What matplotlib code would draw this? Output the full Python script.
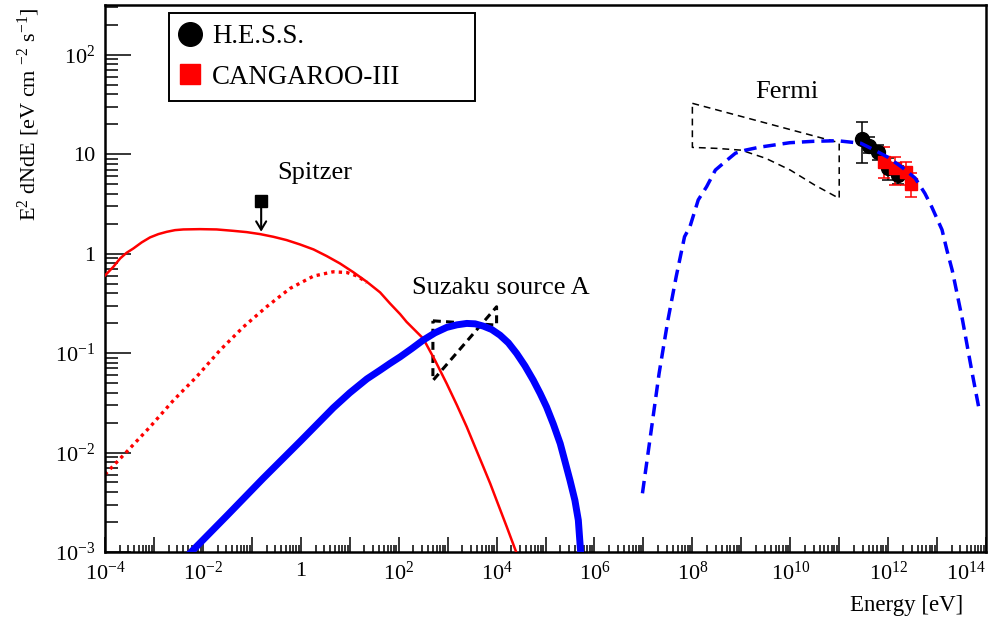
import numpy as np
import matplotlib.pyplot as plt
from matplotlib.lines import Line2D
from matplotlib.ticker import LogLocator, FuncFormatter, NullFormatter

plt.rcParams['font.family'] = ['Liberation Serif', 'DejaVu Serif']
plt.rcParams['mathtext.fontset'] = 'custom'
plt.rcParams['mathtext.rm'] = 'Liberation Serif'
plt.rcParams['mathtext.default'] = 'regular'

# - - - - - - - - - - - - - - - - - - - - - - - - - - - - - - - - - - - - - - - -
# model curves (log10 E [eV], log10 E^2 dN/dE)

# synchrotron, total (solid red)
sync_logE = [-4.0, -3.83, -3.69, -3.56, -3.42, -3.25, -3.08, -2.91, -2.74, -2.57, -2.40, -2.06,
             -1.72, -1.38, -1.105, -0.83, -0.56, -0.29, -0.016, 0.26, 0.53, 0.80, 1.07, 1.35,
             1.62, 1.82, 2.03, 2.16, 2.50, 2.74, 2.98, 3.19, 3.39, 3.56, 3.73, 3.87, 4.00,
             4.21, 4.40, 4.45]
sync_logF = [-0.22, -0.133, -0.048, 0.008, 0.052, 0.113, 0.163, 0.196, 0.219, 0.236, 0.243, 0.246,
             0.243, 0.229, 0.216, 0.196, 0.169, 0.136, 0.092, 0.042, -0.025, -0.099, -0.186, -0.284,
             -0.39, -0.50, -0.609, -0.686, -0.853, -1.071, -1.306, -1.524, -1.742, -1.944, -2.145, -2.312, -2.48,
             -2.75, -3.0, -3.08]

# synchrotron, one component (dotted red)
sync2_logE = [-4.0, -3.56, -3.08, -2.60, -2.13, -1.65, -1.17, -0.70, -0.22, 0.26, 0.66, 0.94, 1.15, 1.35]
sync2_logF = [-2.22, -1.994, -1.742, -1.474, -1.239, -0.971, -0.736, -0.535, -0.35, -0.226, -0.183, -0.19, -0.225, -0.29]

# thick blue
brem_logE = [-2.30, -1.5, -0.77, -0.016, 0.665, 1.0, 1.35, 1.62, 1.82, 2.03, 2.27, 2.50, 2.74, 2.98,
             3.19, 3.39, 3.56, 3.73, 3.90, 4.07, 4.24, 4.41, 4.58, 4.75, 4.89, 5.02, 5.16, 5.30,
             5.40, 5.50, 5.60, 5.67, 5.72]
brem_logF = [-3.03, -2.63, -2.26, -1.89, -1.55, -1.40, -1.26, -1.172, -1.105, -1.038, -0.954, -0.870, -0.797,
             -0.742, -0.716, -0.702, -0.706, -0.729, -0.763, -0.82, -0.897, -1.004, -1.129, -1.273, -1.406,
             -1.541, -1.715, -1.91, -2.094, -2.28, -2.48, -2.68, -3.02]

# dashed blue (gamma rays)
gam_logE = [6.98, 7.15, 7.32, 7.50, 7.67, 7.84, 7.95, 8.12, 8.29, 8.47, 8.67, 8.88, 9.09, 9.37,
            9.99, 10.47, 10.96, 11.44, 11.72, 11.99, 12.27, 12.55, 12.75, 12.89, 13.10, 13.20,
            13.31, 13.52, 13.72, 13.86]
gam_logF = [-2.41, -1.81, -1.205, -0.67, -0.23, 0.17, 0.27, 0.54, 0.672, 0.84, 0.924, 1.01, 1.041, 1.07,
            1.115, 1.129, 1.135, 1.11, 1.041, 0.97, 0.873, 0.76, 0.606, 0.47, 0.24, 0.035,
            -0.17, -0.67, -1.21, -1.57]

# Fermi butterfly
fermi_logE = [8.0, 8.5, 9.0, 9.5, 10.0, 10.5, 11.0]
fermi_up = [1.511, 1.445, 1.379, 1.313, 1.247, 1.181, 1.115]
fermi_lo = [1.068, 1.058, 1.040, 0.958, 0.840, 0.689, 0.555]

# Suzaku source A butterfly (0.5 - 10 keV)
suz_E = [500.0, 1.0e4]
suz_a = [0.211, 0.191]
suz_b = [0.053, 0.292]

# Spitzer upper limit
spitzer_E = 0.155
spitzer_F = 3.37
spitzer_tip = 1.66

# H.E.S.S.
hess_E = [2.9e11, 4.1e11, 6.2e11, 1.0e12, 1.6e12]
hess_F = [14.2, 12.1, 10.5, 7.25, 6.2]
hess_hi = [21.0, 14.9, 12.4, 9.2, 7.6]
hess_lo = [8.1, 10.3, 8.7, 5.5, 5.0]

# CANGAROO-III
cang_E = [8.3e11, 1.38e12, 2.3e12, 2.97e12]
cang_F = [8.3, 7.25, 6.6, 5.0]
cang_hi = [11.8, 9.3, 8.3, 6.45]
cang_lo = [5.75, 4.9, 4.9, 3.7]


def p10(a):
    return np.power(10.0, np.asarray(a, dtype=float))


def xfmt(v, pos):
    e = int(round(np.log10(v)))
    if e % 2:
        return ''
    if e == 0:
        return '1'
    return '10$^{%d}$' % e


def yfmt(v, pos):
    e = int(round(np.log10(v)))
    if e == 0:
        return '1'
    if e == 1:
        return '10'
    return '10$^{%d}$' % e


fig = plt.figure(figsize=(10.03, 6.2), dpi=100)
ax = fig.add_axes([0.1047, 0.1097, 0.8784, 0.8823])
ax.set_xscale('log')
ax.set_yscale('log')

# butterflies
fx = p10(fermi_logE)
ax.plot(np.r_[fx, fx[::-1], fx[:1]], np.r_[p10(fermi_up), p10(fermi_lo)[::-1], p10(fermi_up[:1])],
        color='black', lw=1.1, dashes=(4.5, 3.2), zorder=2)
ax.plot([suz_E[0], suz_E[1], suz_E[1], suz_E[0], suz_E[0]],
        [suz_a[0], suz_a[1], suz_b[1], suz_b[0], suz_a[0]],
        color='black', lw=2.2, dashes=(2.6, 1.7), zorder=2)

# models
ax.plot(p10(sync2_logE), p10(sync2_logF), color='red', lw=2.4, ls=(0, (1, 1.25)), zorder=2)
ax.plot(p10(sync_logE), p10(sync_logF), color='red', lw=1.8, zorder=3)
ax.plot(p10(brem_logE), p10(brem_logF), color='blue', lw=5, zorder=3)

# data
hf = np.array(hess_F)
ax.errorbar(hess_E, hess_F, yerr=[hf - np.array(hess_lo), np.array(hess_hi) - hf], fmt='o',
            color='black', ms=10, capsize=4.5, elinewidth=1.1, capthick=1.1, zorder=4)
cf = np.array(cang_F)
ax.errorbar(cang_E, cang_F, yerr=[cf - np.array(cang_lo), np.array(cang_hi) - cf], fmt='s',
            color='red', ms=8, capsize=4.5, elinewidth=1.1, capthick=1.1, zorder=4)
ax.plot(p10(gam_logE), p10(gam_logF), color='blue', lw=2.5, dashes=(3.6, 2.0), zorder=5)

ax.annotate('', xy=(spitzer_E, spitzer_tip), xytext=(spitzer_E, spitzer_F),
            arrowprops=dict(arrowstyle='->,head_length=0.5,head_width=0.3', lw=1.5,
                            color='black', shrinkA=0, shrinkB=0, mutation_scale=12), zorder=4)
ax.plot([spitzer_E], [spitzer_F], 's', color='black', ms=8.5, zorder=5)

ax.text(1.95, 6.45, 'Spitzer', ha='center', va='center', fontsize=19)
ax.text(1.23e4, 0.45, 'Suzaku source A', ha='center', va='center', fontsize=19)
ax.text(8.6e9, 42.2, 'Fermi', ha='center', va='center', fontsize=19)

ax.set_xlim(1e-4, 1e14)
ax.set_ylim(1e-3, 10 ** 2.5)

ax.xaxis.set_major_locator(LogLocator(base=10, subs=(1.0,), numticks=100))
ax.xaxis.set_minor_locator(LogLocator(base=10, subs=np.arange(2, 10), numticks=100))
ax.yaxis.set_major_locator(LogLocator(base=10, subs=(1.0,), numticks=100))
ax.yaxis.set_minor_locator(LogLocator(base=10, subs=np.arange(2, 10), numticks=100))
ax.xaxis.set_major_formatter(FuncFormatter(xfmt))
ax.yaxis.set_major_formatter(FuncFormatter(yfmt))
ax.xaxis.set_minor_formatter(NullFormatter())
ax.yaxis.set_minor_formatter(NullFormatter())

ax.tick_params(axis='both', which='both', direction='in', top=False, right=False, labelsize=16, width=1.1)
ax.tick_params(axis='x', which='major', length=10.8, pad=7)
ax.tick_params(axis='x', which='minor', length=5)
ax.tick_params(axis='y', which='major', length=18.7, pad=7)
ax.tick_params(axis='y', which='minor', length=9.4)
for s in ax.spines.values():
    s.set_linewidth(1.8)

ax.set_xlabel('Energy [eV]', fontsize=16.5, ha='right', va='center')
ax.xaxis.set_label_coords(0.974, -0.097)
ax.set_ylabel('E$^{2}$ dNdE [eV cm $^{-2}$ s$^{-1}$]', fontsize=16, ha='right', va='center')
ax.yaxis.set_label_coords(-0.086, 0.994)

handles = [Line2D([], [], ls='none', marker='o', color='black', ms=17),
           Line2D([], [], ls='none', marker='s', color='red', ms=15)]
leg = ax.legend(handles, ['H.E.S.S.', 'CANGAROO-III'], loc='upper left',
                bbox_to_anchor=(0.0726, 0.8318, 0.3473, 0.1536), mode='expand', borderaxespad=0,
                fontsize=19.4, fancybox=False, edgecolor='black', framealpha=1,
                borderpad=0.42, labelspacing=0.58, handlelength=0.7, handletextpad=0.48)
leg.get_frame().set_linewidth(1.4)

# keep the last energy label inside the figure
fig.canvas.draw()
for lab in ax.get_xticklabels():
    if lab.get_text() == '10$^{14}$':
        lab.set_ha('right')

plt.savefig('out.png', dpi=100)
